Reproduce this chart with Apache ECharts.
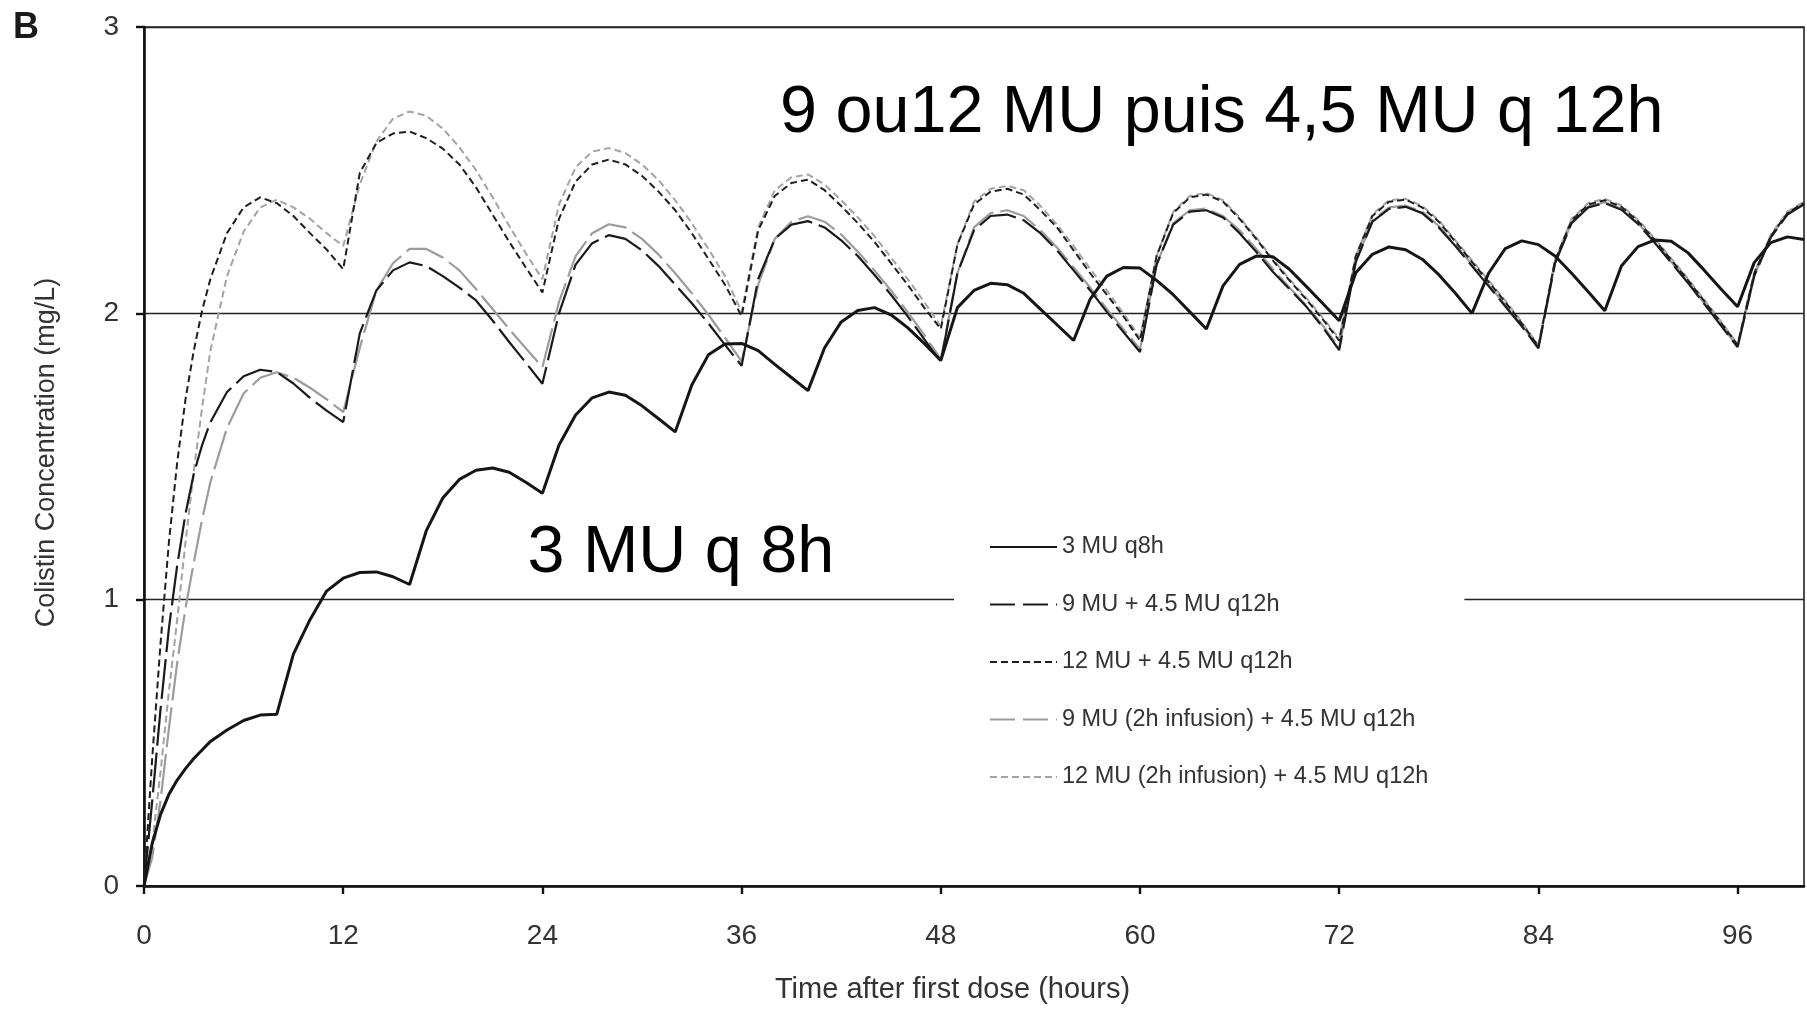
<!DOCTYPE html>
<html>
<head>
<meta charset="utf-8">
<title>Colistin concentration</title>
<script src="https://cdn.jsdelivr.net/npm/echarts@6/dist/echarts.min.js"></script>
<style>
  html, body { margin: 0; padding: 0; background: #fff; }
  #chart { width: 1807px; height: 1009px; }
</style>
</head>
<body>
<div id="chart"></div>
<script>
// Sampling times (hours after first dose)
const hours = [
  0, 0.5, 1, 1.5, 2, 2.5, 3, 3.5, 4,
  5, 6, 7, 8, 9, 10, 11, 12,
  13, 14, 15, 16, 17, 18, 19, 20, 21, 22, 23, 24,
  25, 26, 27, 28, 29, 30, 31, 32, 33, 34, 35, 36,
  37, 38, 39, 40, 41, 42, 43, 44, 45, 46, 47, 48,
  49, 50, 51, 52, 53, 54, 55, 56, 57, 58, 59, 60,
  61, 62, 63, 64, 65, 66, 67, 68, 69, 70, 71, 72,
  73, 74, 75, 76, 77, 78, 79, 80, 81, 82, 83, 84,
  85, 86, 87, 88, 89, 90, 91, 92, 93, 94, 95, 96,
  97, 98, 99, 100
];

// Series names
const names = [
  '3 MU q8h',
  '9 MU + 4.5 MU q12h',
  '12 MU + 4.5 MU q12h',
  '9 MU (2h infusion) + 4.5 MU q12h',
  '12 MU (2h infusion) + 4.5 MU q12h'
];

// Colistin concentration (mg/L), one value per sampling time
const mu3q8 = [
  0, 0.15, 0.25, 0.32, 0.37, 0.41, 0.445, 0.475, 0.505,
  0.545, 0.578, 0.597, 0.6,
  0.81, 0.93, 1.03, 1.075, 1.095, 1.097, 1.08, 1.053,
  1.24, 1.355, 1.42, 1.452, 1.46, 1.445, 1.41, 1.372,
  1.54, 1.645, 1.705, 1.725, 1.714, 1.677, 1.632, 1.586,
  1.75, 1.855, 1.893, 1.895, 1.87, 1.822, 1.776, 1.73,
  1.88, 1.97, 2.01, 2.02, 1.995, 1.95, 1.895, 1.835,
  2.02, 2.08, 2.105, 2.1, 2.07, 2.015, 1.96, 1.905,
  2.05, 2.13, 2.16, 2.158, 2.115, 2.065, 2.005, 1.945,
  2.096, 2.171, 2.2, 2.198, 2.154, 2.095, 2.035, 1.974,
  2.142, 2.206, 2.232, 2.222, 2.189, 2.135, 2.07, 2.0,
  2.14, 2.226, 2.253, 2.24, 2.2, 2.14, 2.075, 2.009,
  2.165, 2.233, 2.256, 2.252, 2.212, 2.15, 2.085, 2.023,
  2.177, 2.247, 2.267, 2.258
];

const mu9q12 = [
  0, 0.3, 0.62, 0.9, 1.12, 1.3, 1.44, 1.54, 1.62,
  1.725, 1.78, 1.803, 1.795, 1.755, 1.705, 1.66, 1.62,
  1.93, 2.08, 2.15, 2.178, 2.165, 2.13, 2.09, 2.045, 1.975, 1.9, 1.828, 1.754,
  2.0, 2.17, 2.245, 2.273, 2.26, 2.22, 2.165, 2.1, 2.035, 1.965, 1.89, 1.817,
  2.12, 2.26, 2.31, 2.322, 2.3, 2.255, 2.2, 2.135, 2.065, 1.99, 1.91, 1.83,
  2.14, 2.29, 2.34, 2.345, 2.325, 2.28, 2.22, 2.15, 2.08, 2.005, 1.935, 1.865,
  2.17, 2.31, 2.355, 2.36, 2.335, 2.28, 2.215, 2.145, 2.085, 2.025, 1.952, 1.872,
  2.18, 2.32, 2.365, 2.372, 2.35, 2.3, 2.235, 2.165, 2.095, 2.025, 1.955, 1.878,
  2.175, 2.315, 2.37, 2.385, 2.362, 2.312, 2.247, 2.177, 2.107, 2.032, 1.957, 1.882,
  2.13, 2.265, 2.345, 2.381
];

const mu12q12 = [
  0, 0.45, 0.85, 1.2, 1.48, 1.7, 1.87, 2.01, 2.12,
  2.28, 2.37, 2.405, 2.385, 2.34, 2.28, 2.223, 2.154,
  2.49, 2.595, 2.628, 2.635, 2.612, 2.575, 2.52, 2.44, 2.345, 2.25, 2.16, 2.073,
  2.33, 2.46, 2.52, 2.537, 2.52, 2.48, 2.425, 2.36, 2.28, 2.19, 2.1, 1.99,
  2.29, 2.41, 2.455, 2.467, 2.43, 2.375, 2.315, 2.25, 2.175, 2.1, 2.02, 1.945,
  2.24, 2.38, 2.425, 2.435, 2.415, 2.36, 2.3, 2.22, 2.14, 2.065, 1.99, 1.905,
  2.2, 2.35, 2.405, 2.415, 2.39, 2.33, 2.26, 2.185, 2.115, 2.05, 1.98, 1.905,
  2.2, 2.34, 2.39, 2.397, 2.37, 2.32, 2.25, 2.18, 2.11, 2.04, 1.965, 1.885,
  2.185, 2.325, 2.38, 2.395, 2.372, 2.322, 2.257, 2.187, 2.117, 2.042, 1.967, 1.89,
  2.14, 2.27, 2.35, 2.386
];

const mu9inf2h = [
  0, 0.1, 0.3, 0.55, 0.78, 0.97, 1.13, 1.28, 1.41,
  1.6, 1.72, 1.775, 1.794, 1.775, 1.74, 1.7, 1.655,
  1.88, 2.08, 2.175, 2.225, 2.225, 2.195, 2.15, 2.085, 2.015, 1.945, 1.878, 1.812,
  2.04, 2.2, 2.28, 2.311, 2.3, 2.26, 2.205, 2.14, 2.07, 1.995, 1.915, 1.832,
  2.1, 2.26, 2.32, 2.339, 2.32, 2.275, 2.215, 2.15, 2.08, 2.005, 1.925, 1.84,
  2.14, 2.3, 2.35, 2.36, 2.34, 2.29, 2.23, 2.16, 2.09, 2.015, 1.945, 1.875,
  2.17, 2.315, 2.36, 2.366, 2.34, 2.29, 2.225, 2.155, 2.09, 2.03, 1.958, 1.88,
  2.18, 2.325, 2.37, 2.376, 2.355, 2.305, 2.24, 2.17, 2.1, 2.03, 1.96, 1.88,
  2.175, 2.318, 2.373, 2.388, 2.365, 2.315, 2.25, 2.18, 2.11, 2.035, 1.96, 1.884,
  2.13, 2.268, 2.348, 2.383
];

const mu12inf2h = [
  0, 0.15, 0.4, 0.68, 0.93, 1.2, 1.45, 1.67, 1.87,
  2.13, 2.285, 2.37, 2.397, 2.37, 2.33, 2.28, 2.235,
  2.45, 2.6, 2.68, 2.705, 2.69, 2.645, 2.58, 2.5, 2.405, 2.305, 2.21, 2.119,
  2.38, 2.51, 2.565, 2.577, 2.56, 2.52, 2.465, 2.395, 2.315, 2.225, 2.13, 2.005,
  2.3, 2.43, 2.475, 2.485, 2.45, 2.395, 2.335, 2.27, 2.195, 2.12, 2.04, 1.955,
  2.24, 2.39, 2.435, 2.445, 2.43, 2.375, 2.31, 2.235, 2.155, 2.08, 2.0, 1.915,
  2.2, 2.355, 2.41, 2.42, 2.395, 2.335, 2.265, 2.19, 2.12, 2.055, 1.985, 1.912,
  2.2, 2.345, 2.395, 2.4, 2.375, 2.325, 2.255, 2.185, 2.115, 2.045, 1.97, 1.888,
  2.185, 2.33, 2.385, 2.4, 2.377, 2.327, 2.262, 2.192, 2.122, 2.047, 1.972, 1.893,
  2.14, 2.275, 2.355, 2.39
];

// Axis ticks
const xTicks = [0, 12, 24, 36, 48, 60, 72, 84, 96];
const yTicks = [0, 1, 2, 3];

const FONT = '"Liberation Sans", Arial, Helvetica, sans-serif';

function pairs(values) {
  return hours.map((h, i) => [h, values[i]]);
}

function lineSeries(name, values, color, width, dash, z) {
  return {
    name: name,
    type: 'line',
    data: pairs(values),
    symbol: 'none',
    smooth: false,
    z: z,
    lineStyle: { color: color, width: width, type: dash },
    itemStyle: { color: color },
    emphasis: { disabled: true }
  };
}

const chart = echarts.init(document.getElementById('chart'), null, { renderer: 'canvas' });

chart.setOption({
  animation: false,
  backgroundColor: '#ffffff',
  textStyle: { fontFamily: FONT },
  grid: {
    left: 144, right: 3, top: 27, bottom: 120.5,
    show: true, borderColor: '#222', borderWidth: 1.6, backgroundColor: 'transparent'
  },
  xAxis: {
    type: 'value',
    min: 0, max: 100, interval: 12,
    name: 'Time after first dose (hours)',
    nameLocation: 'middle',
    nameGap: 89,
    nameTextStyle: { fontSize: 29, color: '#333', fontFamily: FONT, padding: [0, 43, 0, 0] },
    axisLine: { show: true, onZero: false, lineStyle: { color: '#111', width: 2.6 } },
    axisTick: { show: true, inside: false, length: 8, customValues: xTicks, lineStyle: { color: '#111', width: 2.4 } },
    axisLabel: { customValues: xTicks, fontSize: 28, margin: 36, color: '#333', fontFamily: FONT },
    splitLine: { show: false }
  },
  yAxis: {
    type: 'value',
    min: 0, max: 3, interval: 1,
    name: 'Colistin Concentration (mg/L)',
    nameLocation: 'middle',
    nameRotate: 90,
    nameGap: 84,
    nameTextStyle: { fontSize: 27, color: '#333', fontFamily: FONT, padding: [0, 0, 0, 8] },
    axisLine: { show: true, lineStyle: { color: '#111', width: 2.6 } },
    axisTick: { show: true, inside: false, length: 8, customValues: yTicks, lineStyle: { color: '#111', width: 2.4 } },
    axisLabel: { customValues: yTicks, fontSize: 28, margin: 25, color: '#333', fontFamily: FONT },
    splitLine: { show: true, lineStyle: { color: '#222', width: 1.3 } }
  },
  legend: {
    orient: 'vertical',
    left: 954, top: 521,
    padding: [14, 36, 14, 35],
    backgroundColor: '#ffffff',
    itemWidth: 67, itemHeight: 14, itemGap: 33.5,
    selectedMode: false,
    itemStyle: { opacity: 0 },
    textStyle: { fontSize: 23.5, color: '#333', fontFamily: FONT, lineHeight: 24 },
    data: [
      { name: names[0] },
      { name: names[1], lineStyle: { type: [25, 8] } },
      { name: names[2], lineStyle: { type: [7, 4] } },
      { name: names[3], lineStyle: { type: [25, 8] } },
      { name: names[4], lineStyle: { type: [7, 4] } }
    ]
  },
  graphic: [
    {
      type: 'text', x: 13, y: 28, z: 10,
      style: { text: 'B', font: 'bold 36px ' + FONT, fill: '#1a1a1a', verticalAlign: 'middle', align: 'left' }
    },
    {
      type: 'text', x: 780, y: 114, z: 10,
      style: { text: '9 ou12 MU puis 4,5 MU q 12h', font: '66.5px ' + FONT, fill: '#000', verticalAlign: 'middle', align: 'left' }
    },
    {
      type: 'text', x: 527.5, y: 554, z: 10,
      style: { text: '3 MU q 8h', font: '66.5px ' + FONT, fill: '#000', verticalAlign: 'middle', align: 'left' }
    }
  ],
  series: [
    lineSeries(names[3], mu9inf2h, '#9c9c9c', 2.2, [40, 7], 2),
    lineSeries(names[4], mu12inf2h, '#a3a3a3', 2, [7, 4], 2),
    lineSeries(names[1], mu9q12, '#1a1a1a', 2.2, [40, 7], 3),
    lineSeries(names[2], mu12q12, '#1e1e1e', 2, [7, 4], 3),
    lineSeries(names[0], mu3q8, '#151515', 3, 'solid', 4)
  ]
});
</script>
</body>
</html>
